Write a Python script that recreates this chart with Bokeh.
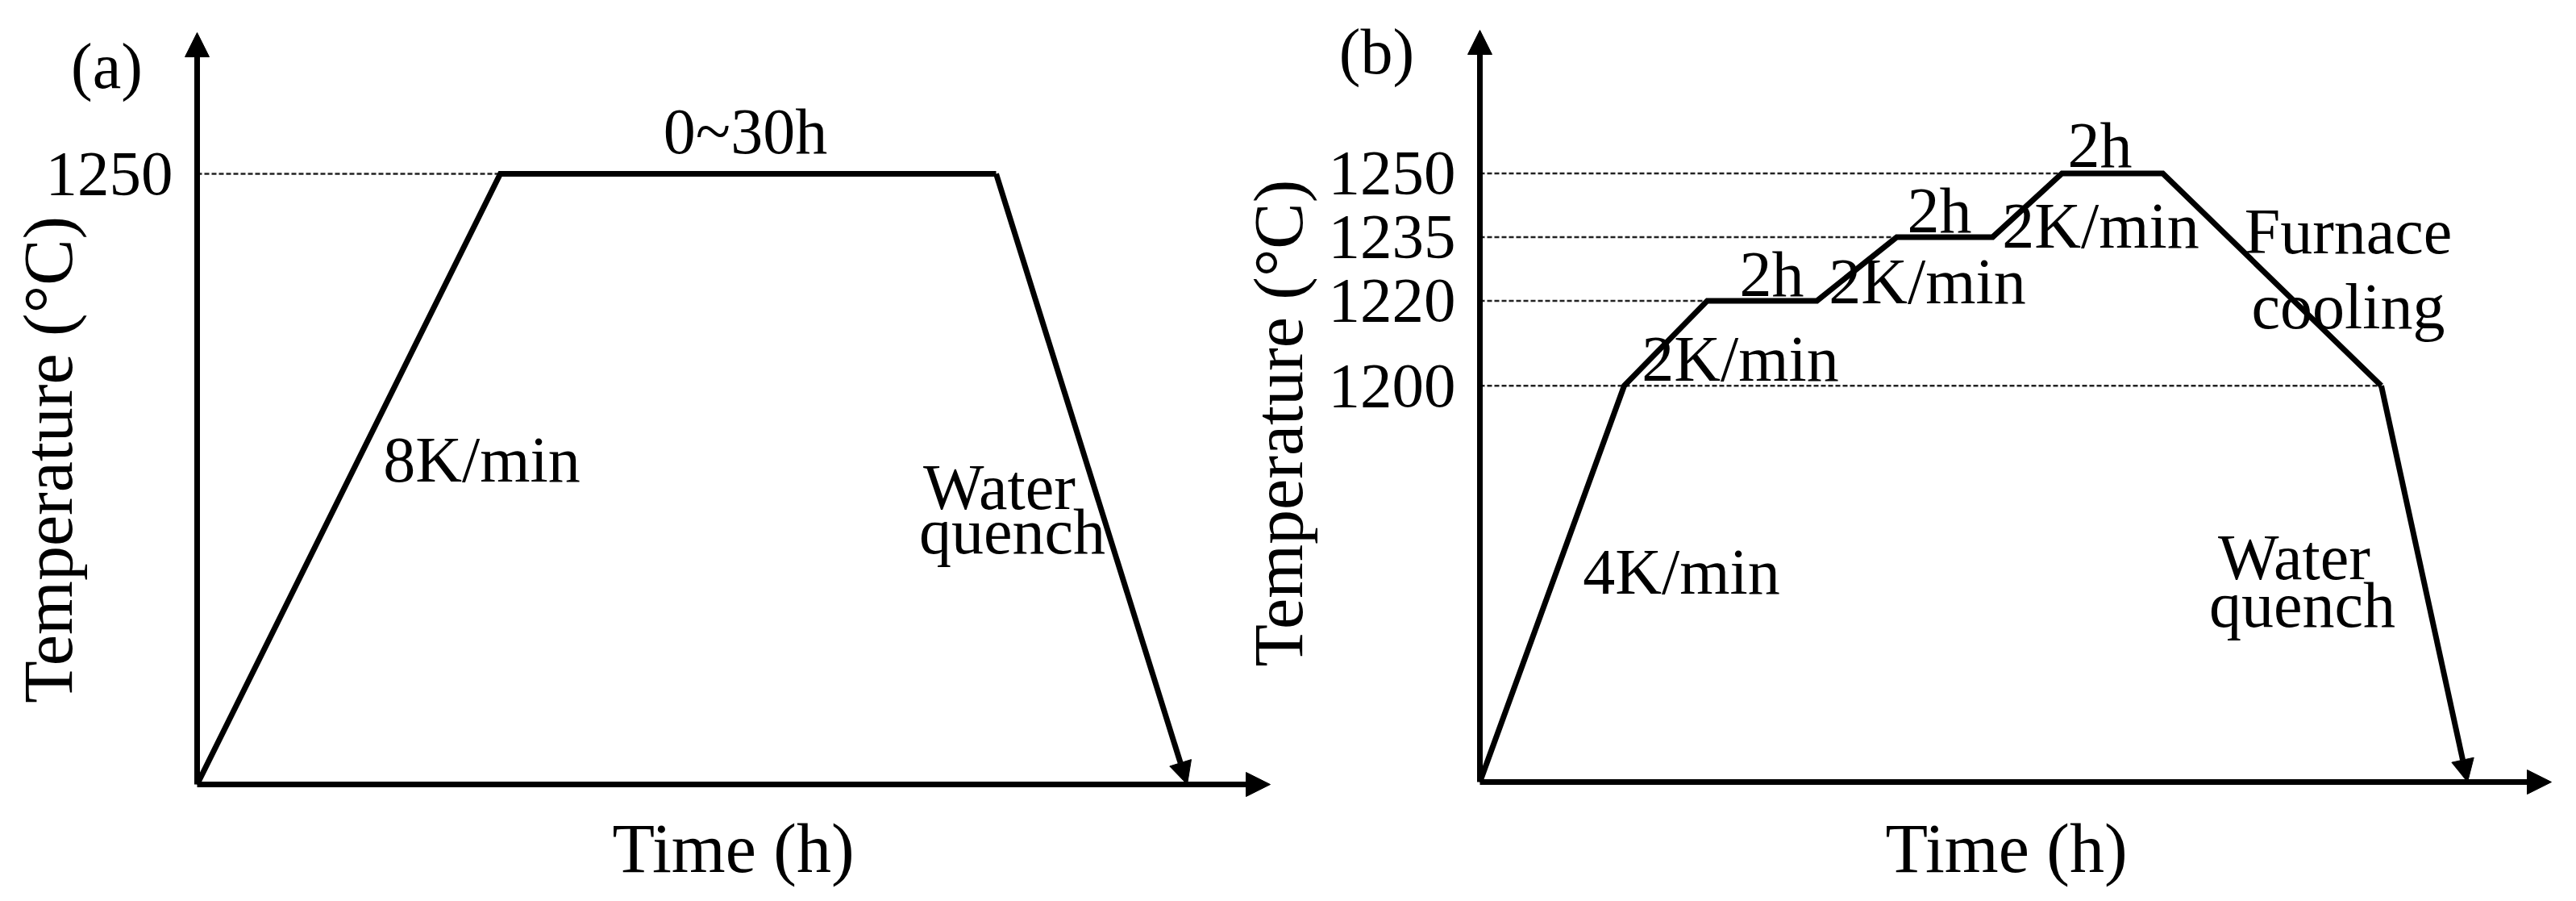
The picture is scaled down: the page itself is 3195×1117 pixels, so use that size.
from math import pi
from bokeh.plotting import figure
from bokeh.models import Range1d, Arrow, NormalHead
from bokeh.core.properties import value
from bokeh.embed import file_html
from bokeh.resources import INLINE

FONT = "Liberation Serif"

# ---------------- data ----------------
# Panel (a): schematic heat-treatment path (time in arbitrary units, temperature in °C)
time_a = [0.0, 3.76, 9.91, 12.28]
temp_a = [0, 1250, 1250, 0]
ticks_a = [1250]
guide_vertex_a = [1]            # dashed reference line runs to this path vertex
axis_max_time_a = 13.31
axis_max_temp_a = 1539
base_temp_a = 0

# Panel (b): step heating path
base_temp_b = 1106.7            # schematic axis floor
time_b = [0.0, 1.79, 2.82, 4.18, 5.17, 6.36, 7.22, 8.47, 11.18, 12.25]
temp_b = [base_temp_b, 1200, 1220, 1220, 1235, 1235, 1250, 1250, 1200, base_temp_b]
ticks_b = [1200, 1220, 1235, 1250]
guide_vertex_b = [8, 2, 4, 6]
axis_max_time_b = 13.29
axis_max_temp_b = 1283.7

# annotation texts
notes_a = ["0~30h", "8K/min", "Water", "quench"]
notes_b = ["4K/min", "2K/min", "2h", "2K/min", "2h", "2K/min", "2h",
           "Furnace", "cooling", "Water", "quench"]

# ---------------- figure ----------------
p = figure(width=3179, height=1101,
           x_range=Range1d(-2.44, 29.35), y_range=Range1d(-213.0, 1605.0),
           x_axis_type=None, y_axis_type=None,
           output_backend="svg", toolbar_location=None,
           min_border=0, outline_line_color=None)
p.extra_x_ranges = {"b": Range1d(-18.35, 13.44)}
p.extra_y_ranges = {"b": Range1d(1081.64, 1290.72)}

LW = 7


def rk(r):
    return dict(x_range_name=r, y_range_name=r)


def arrow(x0, y0, x1, y1, r, size=30):
    p.add_layout(Arrow(end=NormalHead(size=size, fill_color="black",
                                      line_color="black", line_width=1),
                       x_start=x0, y_start=y0, x_end=x1, y_end=y1,
                       line_width=LW, line_color="black", **rk(r)))


def texts(xs, ys, tx, r, size="80px", angle=0.0, align="center"):
    p.text(x=xs, y=ys, text=tx, text_font=value(FONT), text_font_size=size,
           text_align=align, text_baseline="middle", text_color="black",
           angle=angle, **rk(r))


def panel(times, temps, ticks, guide_vertex, base, tmax, Tmax, r):
    # dashed reference lines
    p.segment(x0=[0] * len(ticks), y0=ticks,
              x1=[times[i] for i in guide_vertex], y1=ticks,
              line_color="#222222", line_width=2.5, line_dash="6 3", **rk(r))
    # axes with arrow heads
    arrow(0, base, 0, Tmax, r)
    arrow(0, base, tmax, base, r)
    # path
    p.line(times[:-1], temps[:-1], line_color="black", line_width=LW,
           line_join="miter", **rk(r))
    arrow(times[-2], temps[-2], times[-1], temps[-1], r, size=28)
    # tick labels
    texts([-0.30] * len(ticks), ticks, [str(t) for t in ticks], r,
          size="79px", align="right")


panel(time_a, temp_a, ticks_a, guide_vertex_a, base_temp_a,
      axis_max_time_a, axis_max_temp_a, "default")
panel(time_b, temp_b, ticks_b, guide_vertex_b, base_temp_b,
      axis_max_time_b, axis_max_temp_b, "b")

# panel (a) texts
texts([6.8, 3.53, 9.95, 10.11], [1337, 665, 609, 518], notes_a, "default")
texts([-1.12], [1470], ["(a)"], "default")
texts([6.65], [-132], ["Time (h)"], "default", size="86px")
texts([-1.85], [665], ["Temperature (\u00b0C)"], "default", size="86px", angle=pi / 2)

# panel (b) texts
texts([2.50, 3.23, 3.62, 5.55, 5.70, 7.70, 7.69, 10.77, 10.77, 10.10, 10.20],
      [1156.1, 1206.4, 1226.2, 1224.5, 1241.3, 1237.7, 1256.6, 1236.4, 1218.6, 1159.5, 1148.3],
      notes_b, "b")
texts([-1.28], [1278.6], ["(b)"], "b")
texts([6.53], [1091], ["Time (h)"], "b", size="86px")
texts([-2.50], [1191.2], ["Temperature (\u00b0C)"], "b", size="86px", angle=pi / 2)

open("out.html", "w").write(file_html(p, INLINE))
